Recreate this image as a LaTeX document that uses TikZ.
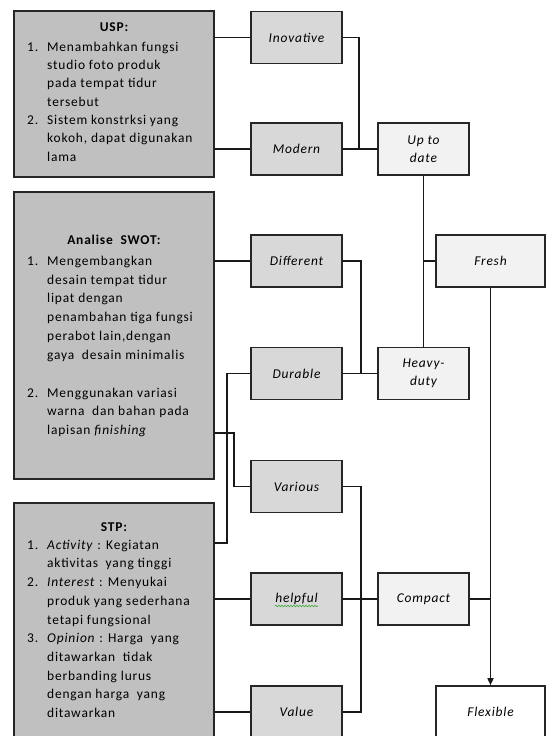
\documentclass[tikz,border=0pt]{standalone}
\usepackage{fontspec}
\setmainfont{Carlito}[LetterSpace=6]
\usetikzlibrary{arrows.meta,decorations.pathmorphing}
\definecolor{bigfill}{RGB}{192,192,192}
\definecolor{lfill}{RGB}{216,216,216}
\definecolor{rfill}{RGB}{242,242,242}
\definecolor{wavy}{RGB}{60,170,60}
\tikzset{
  bigbox/.style={draw=black!85, line width=1.6bp, fill=bigfill, inner sep=0pt},
  lbox/.style={draw=black!85, line width=1.6bp, fill=lfill, minimum width=91bp, minimum height=52bp, inner sep=0pt, align=center, font=\fontsize{13.5}{18}\selectfont\itshape},
  rbox/.style={lbox, fill=rfill},
  wbox/.style={lbox, fill=white, minimum width=109bp},
  fbox/.style={lbox, fill=rfill, minimum width=109bp},
  listtxt/.style={inner sep=0pt, anchor=north west, align=left},
  ttl/.style={inner sep=0pt, anchor=base, font=\fontsize{13.5}{18}\selectfont\bfseries},
  conn/.style={line width=1.5bp, draw=black!90},
}
\newcommand{\itm}[1]{\makebox[20bp][l]{#1}}
\newcommand{\cnt}{\hspace*{20bp}}
\begin{document}
\begin{tikzpicture}[x=1bp,y=-1bp]
\useasboundingbox (0,0) rectangle (549,736);
% big boxes
\node[bigbox, minimum width=200bp, minimum height=166bp] (usp) at (114,94) {};
\node[bigbox, minimum width=200bp, minimum height=287bp] (swot) at (114,335.5) {};
\node[bigbox, minimum width=200bp, minimum height=274bp] (stp) at (114,640) {};
% titles
\node[ttl] (usptitle) at (114,32) {USP:};
\node[ttl] (swottitle) at (114,244) {Analise\ \ SWOT:};
\node[ttl] (stptitle) at (114,531) {STP:};
% lists
\node[listtxt, font=\fontsize{13.5}{18.4}\selectfont] (usptext) at (27,38.1) {\strut\itm{1.}Menambahkan fungsi\\ \cnt studio foto produk\\ \cnt pada tempat tidur\\ \cnt tersebut\\ \itm{2.}Sistem konstrksi yang\\ \cnt kokoh, dapat digunakan\\ \cnt lama};
\node[listtxt, font=\fontsize{13.5}{18.9}\selectfont] (swottext) at (27,251.8) {\strut\itm{1.}Mengembangkan\\ \cnt desain tempat tidur\\ \cnt lipat dengan\\ \cnt penambahan tiga fungsi\\ \cnt perabot lain,dengan\\ \cnt gaya\ \ desain minimalis\\[18.9bp] \itm{2.}Menggunakan variasi\\ \cnt warna\ \ dan bahan pada\\ \cnt lapisan \textit{finishing}};
\node[listtxt, font=\fontsize{13.5}{18.8}\selectfont] (stptext) at (27,535.8) {\strut\itm{1.}\textit{Activity} : Kegiatan\\ \cnt aktivitas\ \ yang tinggi\\ \itm{2.}\textit{Interest} : Menyukai\\ \cnt produk yang sederhana\\ \cnt tetapi fungsional\\ \itm{3.}\textit{Opinion} : Harga\ \ yang\\ \cnt ditawarkan\ \ tidak\\ \cnt berbanding lurus\\ \cnt dengan harga\ \ yang\\ \cnt ditawarkan};
% left column boxes
\node[lbox] (inov) at (296.5,37.5) {Inovative};
\node[lbox] (modern) at (296.5,149) {Modern};
\node[lbox] (diff) at (296.5,261) {Different};
\node[lbox] (dur) at (296.5,373.5) {Durable};
\node[lbox] (var) at (296.5,486.5) {Various};
\node[lbox] (help) at (296.5,599) {helpful};
\node[lbox] (value) at (296.5,712) {Value};
% middle column
\node[rbox] (uptodate) at (423.5,149) {Up to\\date};
\node[rbox] (heavy) at (423.5,373.5) {Heavy-\\duty};
\node[rbox] (compact) at (423.5,599) {Compact};
% right column
\node[fbox] (fresh) at (490.5,261) {Fresh};
\node[wbox] (flexible) at (490.5,712) {Flexible};
% spell-check underline
\draw[wavy, line width=0.6bp, decorate, decoration={snake, amplitude=0.8bp, segment length=3bp}] (275,606) -- (318,606);
% free connector ends
\coordinate (swotout) at (214,433);
\coordinate (stpout) at (214,543);
% connectors
\draw[conn] (usp.east |- inov.west) -- (inov.west);
\draw[conn] (usp.east |- modern.west) -- (modern.west);
\draw[conn] (inov.east) -- ++(16,0) |- (uptodate.west);
\draw[conn] (modern.east) -- (uptodate.west);
\draw[conn] (uptodate.south) -- (heavy.north);
\draw[conn] (fresh.west) -- (fresh.west -| uptodate.south);
\draw[conn] (swot.east |- diff.west) -- (diff.west);
\draw[conn] (diff.east) -- ++(18,0) |- (heavy.west);
\draw[conn] (dur.east) -- (heavy.west);
\draw[conn] (stpout) -- ++(13,0) |- (dur.west);
\draw[conn] (swotout) -- ++(20,0) |- (var.west);
\draw[conn] (stp.east |- help.west) -- (help.west);
\draw[conn] (stp.east |- value.west) -- (value.west);
\draw[conn] (var.east) -- ++(18,0) |- (value.east);
\draw[conn] (help.east) -- (compact.west);
\draw[conn] (compact.east) -- (compact.east -| fresh.south);
\draw[conn, -{Triangle[length=7bp,width=6bp]}] (fresh.south) -- (flexible.north);
\end{tikzpicture}
\end{document}
